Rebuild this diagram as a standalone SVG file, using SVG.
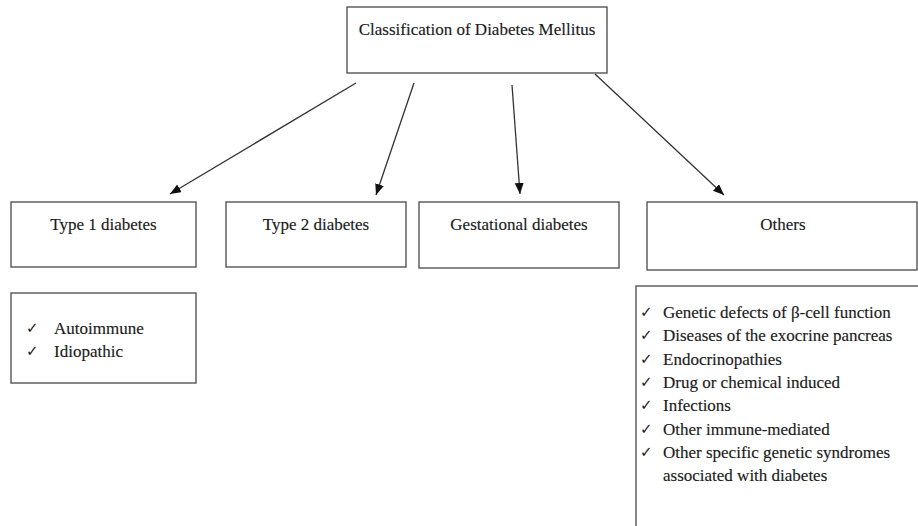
<svg xmlns="http://www.w3.org/2000/svg" width="918" height="526" viewBox="0 0 918 526">
<defs>
<style>
.box{fill:#fff;stroke:#555;stroke-width:1.4}
.t{font-family:"Liberation Serif","Times New Roman",serif;font-size:17px;fill:#1a1a1a;stroke:#1a1a1a;stroke-width:0.15}
.c{text-anchor:middle}
.ck{font-family:"DejaVu Sans",sans-serif;font-size:15px;fill:#1a1a1a}
.ln{stroke:#333;stroke-width:1.3;fill:none;marker-end:url(#ah)}
</style>
<marker id="ah" markerUnits="userSpaceOnUse" markerWidth="12" markerHeight="10" refX="11" refY="4.5" orient="auto">
<path d="M0,0 L11,4.5 L0,9 Z" fill="#111"/>
</marker>
</defs>
<rect width="918" height="526" fill="#fff"/>
<g id="connectors">
<line class="ln" x1="356" y1="83" x2="170" y2="194"/>
<line class="ln" x1="414" y1="83" x2="376" y2="195"/>
<line class="ln" x1="512" y1="85" x2="520" y2="194"/>
<line class="ln" x1="595" y1="74" x2="724" y2="195"/>
</g>
<g id="root">
<rect class="box" x="347" y="7" width="260" height="66"/>
<text class="t c" x="477" y="35">Classification of Diabetes Mellitus</text>
</g>
<g id="type1">
<rect class="box" x="11" y="202" width="185" height="65"/>
<text class="t c" x="103.5" y="230">Type 1 diabetes</text>
</g>
<g id="type2">
<rect class="box" x="226" y="202" width="180" height="65"/>
<text class="t c" x="316" y="230">Type 2 diabetes</text>
</g>
<g id="gestational">
<rect class="box" x="419" y="202" width="200" height="66"/>
<text class="t c" x="519" y="230">Gestational diabetes</text>
</g>
<g id="others">
<rect class="box" x="647" y="202" width="270" height="68"/>
<text class="t c" x="783" y="230">Others</text>
</g>
<g id="type1-list">
<rect class="box" x="11" y="293" width="185" height="90"/>
<text class="ck" x="26" y="333">✓</text>
<text class="t" x="54" y="334">Autoimmune</text>
<text class="ck" x="26" y="356">✓</text>
<text class="t" x="54" y="357">Idiopathic</text>
</g>
<g id="others-list">
<rect class="box" x="636" y="286" width="290" height="250"/>
<text class="ck" x="640" y="317">✓</text>
<text class="t" x="663" y="318">Genetic defects of β-cell function</text>
<text class="ck" x="640" y="340">✓</text>
<text class="t" x="663" y="341">Diseases of the exocrine pancreas</text>
<text class="ck" x="640" y="364">✓</text>
<text class="t" x="663" y="365">Endocrinopathies</text>
<text class="ck" x="640" y="387">✓</text>
<text class="t" x="663" y="388">Drug or chemical induced</text>
<text class="ck" x="640" y="410">✓</text>
<text class="t" x="663" y="411">Infections</text>
<text class="ck" x="640" y="434">✓</text>
<text class="t" x="663" y="435">Other immune-mediated</text>
<text class="ck" x="640" y="457">✓</text>
<text class="t" x="663" y="458">Other specific genetic syndromes</text>
<text class="t" x="663" y="481">associated with diabetes</text>
</g>
</svg>
